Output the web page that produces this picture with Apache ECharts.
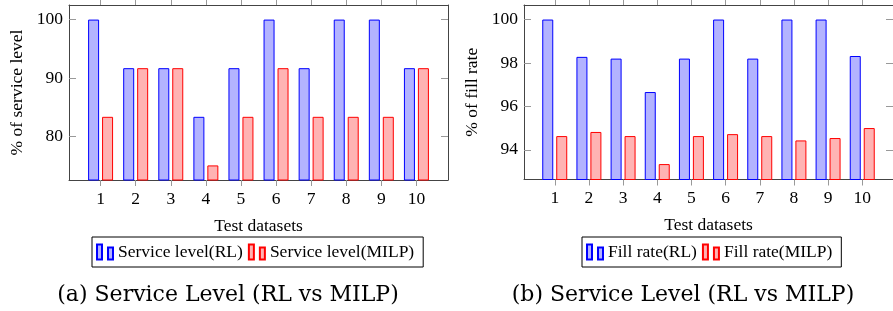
<!DOCTYPE html>
<html>
<head>
<meta charset="utf-8">
<script src="https://cdn.jsdelivr.net/npm/echarts@6/dist/echarts.min.js"></script>
<style>
  html, body { margin: 0; padding: 0; background: #fff; }
  #chart { width: 893px; height: 311px; }
</style>
</head>
<body>
<div id="chart"></div>
<script>
// 测试数据集编号
const datasets = [1, 2, 3, 4, 5, 6, 7, 8, 9, 10]

// (a) service level
const serviceRL = [100, 91.67, 91.67, 83.33, 91.67, 100, 91.67, 100, 100, 91.67]
const serviceMILP = [83.33, 91.67, 91.67, 75, 83.33, 91.67, 83.33, 83.33, 83.33, 91.67]
const serviceTicks = [80, 90, 100]

// (b) fill rate
const fillRL = [100, 98.28, 98.2, 96.66, 98.2, 100, 98.2, 100, 100, 98.32]
const fillMILP = [94.63, 94.82, 94.63, 93.34, 94.63, 94.72, 94.63, 94.43, 94.54, 95.0]
const fillTicks = [94, 96, 98, 100]

const captions = ['(a) Service Level (RL vs MILP)', '(b) Service Level (RL vs MILP)']

const FONT = 'Liberation Serif'
const legendIcon = 'path://M0,0 h5 v15 h-5 Z M11,3 h5 v12 h-5 Z'

const chart = echarts.init(document.getElementById('chart'))

const pairs = (vals) => datasets.map((d, i) => [d, vals[i]])

// 一个子图的坐标轴
const bottomAxis = (idx) => ({
  type: 'value', gridIndex: idx, min: 0.1, max: 10.9,
  name: 'Test datasets', nameLocation: 'middle', nameGap: 37,
  nameTextStyle: { fontFamily: FONT, fontSize: 17.5, color: '#000' },
  axisLine: { lineStyle: { color: '#444', width: 1 } },
  axisTick: { customValues: datasets, length: 6, lineStyle: { color: '#999' } },
  axisLabel: { customValues: datasets, margin: 10, fontFamily: FONT, fontSize: 17.5, color: '#000' },
  splitLine: { show: false }
})
const topAxis = (idx) => ({
  type: 'value', gridIndex: idx, position: 'top', min: 0.1, max: 10.9,
  axisLine: { lineStyle: { color: '#444', width: 1 } },
  axisTick: { customValues: datasets, length: 5, lineStyle: { color: '#999' } },
  axisLabel: { show: false },
  splitLine: { show: false }
})
const leftAxis = (idx, min, max, ticks, name) => ({
  type: 'value', gridIndex: idx, min: min, max: max,
  name: name, nameLocation: 'middle', nameGap: 43,
  nameTextStyle: { fontFamily: FONT, fontSize: 17.5, color: '#000' },
  axisLine: { show: true, lineStyle: { color: '#444', width: 1 } },
  axisTick: { show: true, inside: true, length: 7, customValues: ticks, lineStyle: { color: '#999' } },
  axisLabel: { customValues: ticks, margin: 6, fontFamily: FONT, fontSize: 17.5, color: '#000' },
  splitLine: { show: false }
})
const rightAxis = (idx, min, max, ticks) => ({
  type: 'value', gridIndex: idx, position: 'right', min: min, max: max,
  axisLine: { show: true, lineStyle: { color: '#444', width: 1 } },
  axisTick: { show: true, inside: true, length: 7, customValues: ticks, lineStyle: { color: '#999' } },
  axisLabel: { show: false },
  splitLine: { show: false }
})

const bar = (name, vals, idx, fill, stroke) => ({
  name: name, type: 'bar', xAxisIndex: idx, yAxisIndex: idx,
  data: pairs(vals), barWidth: 11, barGap: '27%',
  itemStyle: { color: fill, borderColor: stroke, borderWidth: 1 },
  emphasis: { disabled: true }
})

const legend = (left, names) => ({
  left: left, top: 237, orient: 'horizontal',
  data: names, icon: legendIcon, itemWidth: 16, itemHeight: 15, itemGap: 5,
  padding: [6, 9, 6, 4], borderColor: '#000', borderWidth: 1,
  selectedMode: false,
  textStyle: { fontFamily: FONT, fontSize: 17.5, color: '#000' }
})

const option = {
  animation: false,
  grid: [
    { left: 69, top: 5, width: 379, height: 175 },
    { left: 524, top: 5, width: 376.5, height: 174.5 }
  ],
  xAxis: [bottomAxis(0), bottomAxis(1), topAxis(0), topAxis(1)],
  yAxis: [
    leftAxis(0, 72.5, 102.5, serviceTicks, '% of service level'),
    leftAxis(1, 92.63, 100.67, fillTicks, '% of fill rate'),
    rightAxis(0, 72.5, 102.5, serviceTicks),
    rightAxis(1, 92.63, 100.67, fillTicks)
  ],
  legend: [
    legend(92, ['Service level(RL)', 'Service level(MILP)']),
    legend(582, ['Fill rate(RL)', 'Fill rate(MILP)'])
  ],
  graphic: [
    { type: 'text', x: 228, y: 295, style: { text: captions[0], align: 'center', verticalAlign: 'middle', font: '22px "DejaVu Serif"', fill: '#000' } },
    { type: 'text', x: 683, y: 295, style: { text: captions[1], align: 'center', verticalAlign: 'middle', font: '22px "DejaVu Serif"', fill: '#000' } }
  ],
  series: [
    bar('Service level(RL)', serviceRL, 0, '#b3b3ff', '#0000ff'),
    bar('Service level(MILP)', serviceMILP, 0, '#ffb3b3', '#ff0000'),
    bar('Fill rate(RL)', fillRL, 1, '#b3b3ff', '#0000ff'),
    bar('Fill rate(MILP)', fillMILP, 1, '#ffb3b3', '#ff0000')
  ]
}

chart.setOption(option)
</script>
</body>
</html>
